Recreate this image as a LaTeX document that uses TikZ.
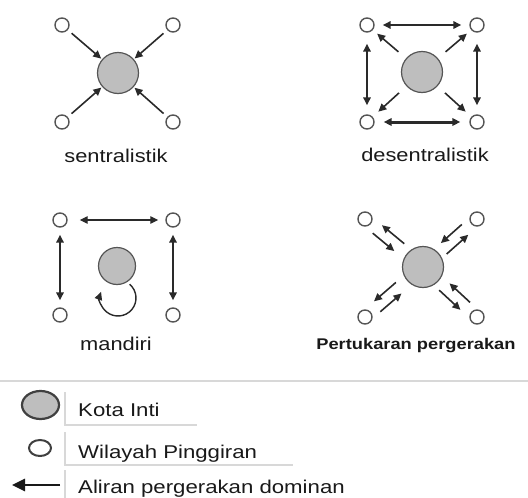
\documentclass[tikz,border=0pt]{standalone}
\usepackage{fontspec}
\setmainfont{Liberation Sans}
\newfontfamily\lblfont[FakeStretch=1.18]{Liberation Sans}
\newfontfamily\legfont[FakeStretch=1.2]{Liberation Sans}
\usetikzlibrary{arrows.meta,calc,shapes.geometric}
\definecolor{linegray}{HTML}{2A2A2A}
\definecolor{bordergray}{HTML}{555555}
\definecolor{fillgray}{HTML}{BEBEBE}
\definecolor{rulegray}{HTML}{D8D8D8}
\newcommand\pairarr[2]{%
  \draw[arr] ($(#1)!15pt!(#2)!6pt!-90:(#2)$) -- ($(#1)!43pt!(#2)!6pt!-90:(#2)$);
  \draw[arr] ($(#1)!46pt!(#2)!6pt!90:(#2)$) -- ($(#1)!17pt!(#2)!6pt!90:(#2)$);}
\begin{document}
\begin{tikzpicture}[x=1pt,y=-1pt,
  small/.style={circle,draw=bordergray,line width=1.4pt,fill=white,minimum size=14pt,inner sep=0pt},
  big/.style={circle,draw=bordergray,line width=1.2pt,fill=fillgray,minimum size=41pt,inner sep=0pt},
  arr/.style={-{Triangle[length=8pt,width=7.5pt]},line width=1.6pt,draw=linegray},
  darr/.style={{Triangle[length=8pt,width=7.5pt]}-{Triangle[length=8pt,width=7.5pt]},line width=1.6pt,draw=linegray},
  lbl/.style={font=\lblfont\fontsize{18.5}{20}\selectfont,text=black!90,inner sep=0pt,anchor=base},
  leg/.style={font=\legfont\fontsize{18.5}{20}\selectfont,text=black!90,inner sep=0pt,anchor=base west},
  rule/.style={draw=rulegray,line width=1.1pt}
]
\useasboundingbox (0,0) rectangle (528,498);

% ---------- panel 1: sentralistik
\node[big] (c1) at (118,73) {};
\node[small] (a1) at (62,25) {};
\node[small] (b1) at (173,25) {};
\node[small] (d1) at (62,122) {};
\node[small] (e1) at (173,122) {};
\foreach \n in {a1,b1,d1,e1} \draw[arr,shorten <=5pt,shorten >=1pt] (\n) -- (c1);
\node[lbl] (t1) at (116,162) {sentralistik};

% ---------- panel 2: desentralistik
\node[big] (c2) at (422,72) {};
\node[small] (a2) at (367,25) {};
\node[small] (b2) at (477,25) {};
\node[small] (d2) at (367,122) {};
\node[small] (e2) at (477,122) {};
\draw[darr,shorten <=8pt,shorten >=8pt] (a2) -- (b2);
\draw[darr,shorten <=11pt,shorten >=9pt] (a2) -- (d2);
\draw[darr,shorten <=11pt,shorten >=9pt] (b2) -- (e2);
\draw[darr,line width=3pt,shorten <=9pt,shorten >=9pt] (d2) -- (e2);
\foreach \n in {a2,b2,d2,e2} \draw[arr] ($(c2)!31pt!(\n)$) -- ($(c2)!59pt!(\n)$);
\node[lbl] (t2) at (425,161) {desentralistik};

% ---------- panel 3: mandiri
\coordinate (l3) at ($(118,298)+(-50:18)$);
\draw[arr,line width=1.4pt] (l3) arc[start angle=-50,end angle=200,radius=18];
\node[big,minimum size=37pt] (c3) at (117,266) {};
\node[small] (a3) at (60,220) {};
\node[small] (b3) at (173,220) {};
\node[small] (d3) at (60,315) {};
\node[small] (e3) at (173,315) {};
\draw[darr,line width=1.2pt,shorten <=12pt,shorten >=7pt] (a3) -- (b3);
\draw[darr,shorten <=7pt,shorten >=7pt] (a3) -- (d3);
\draw[darr,shorten <=7pt,shorten >=7pt] (b3) -- (e3);
\node[lbl] (t3) at (116,350) {mandiri};

% ---------- panel 4: Pertukaran pergerakan
\node[big] (c4) at (423,267) {};
\node[small] (a4) at (365,219) {};
\node[small] (b4) at (477,219) {};
\node[small] (d4) at (365,317) {};
\node[small] (e4) at (477,317) {};
\pairarr{a4}{c4}
\pairarr{b4}{c4}
\pairarr{d4}{c4}
\pairarr{e4}{c4}
\node[lbl,font=\lblfont\bfseries\fontsize{15.5}{18}\selectfont] (t4) at (416,349) {Pertukaran pergerakan};

% ---------- legend
\draw[rule] (0,381) -- (528,381);
\node[ellipse,draw=black!75,line width=2.2pt,fill=fillgray,minimum width=37pt,minimum height=28pt,inner sep=0pt] (k1) at (40.5,405) {};
\node[ellipse,draw=black!75,line width=2pt,fill=white,minimum width=22pt,minimum height=16pt,inner sep=0pt] (k2) at (40,448) {};
\coordinate (k3s) at (60,485);
\coordinate (k3e) at (12,485);
\draw[-{Triangle[length=13pt,width=12pt]},line width=2.6pt,draw=black!90] (k3s) -- (k3e);
\draw[rule] (65,392) -- (65,425) -- (197,425);
\draw[rule] (65,432) -- (65,465) -- (293,465);
\draw[rule] (65,470) -- (65,498);
\node[leg] (lt1) at (78,416) {Kota Inti};
\node[leg] (lt2) at (78,458) {Wilayah Pinggiran};
\node[leg] (lt3) at (78,493) {Aliran pergerakan dominan};
\end{tikzpicture}
\end{document}
